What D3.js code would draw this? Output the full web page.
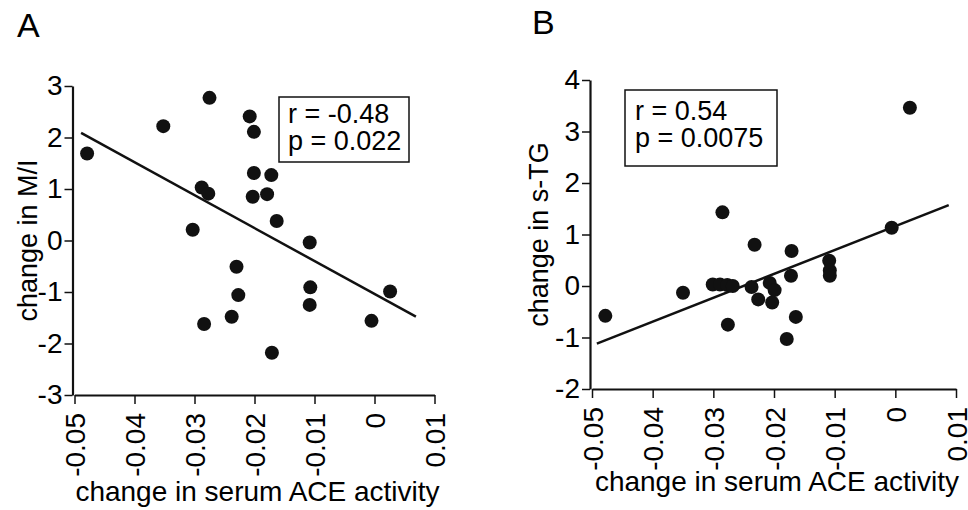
<!DOCTYPE html>
<html>
<head>
<meta charset="utf-8">
<script src="https://cdn.jsdelivr.net/npm/d3@7"></script>
<style>
body { margin: 0; background: #fff; }
svg { font-family: "Liberation Sans", Arial, Helvetica, sans-serif; }
</style>
</head>
<body>
<script>
// panel A : change in serum ACE activity vs change in M/I
var aceA = [-0.0479, -0.0352, -0.0275, -0.0288, -0.0277, -0.0303, -0.0284, -0.0230, -0.0227, -0.0238,
            -0.0208, -0.0201, -0.0201, -0.0203, -0.0172, -0.0179, -0.0163, -0.0171, -0.0108, -0.0107,
            -0.0108, -0.0005, 0.0026];
var miA = [1.69, 2.22, 2.77, 1.03, 0.91, 0.21, -1.62, -0.51, -1.06, -1.48,
           2.41, 2.11, 1.31, 0.85, 1.27, 0.90, 0.38, -2.18, -0.04, -0.91,
           -1.25, -1.56, -0.99];
var fitXA = [-0.0489, 0.0069];
var fitYA = [2.09, -1.48];
var statsA = ["r = -0.48", "p = 0.022"];

// panel B : change in serum ACE activity vs change in s-TG
var aceB = [-0.0478, -0.0350, -0.0285, -0.0301, -0.0289, -0.0277, -0.0268, -0.0276, -0.0232, -0.0237,
            -0.0226, -0.0207, -0.0199, -0.0203, -0.0171, -0.0172, -0.0164, -0.0179, -0.0109, -0.0108,
            -0.0108, -0.0006, 0.0024];
var tgB = [-0.58, -0.13, 1.43, 0.03, 0.03, 0.02, 0.00, -0.75, 0.80, -0.02,
           -0.26, 0.06, -0.08, -0.32, 0.68, 0.20, -0.60, -1.03, 0.49, 0.30,
           0.20, 1.13, 3.46];
var fitXB = [-0.0492, 0.0088];
var fitYB = [-1.12, 1.57];
var statsB = ["r = 0.54", "p = 0.0075"];

var xTicks = [-0.05, -0.04, -0.03, -0.02, -0.01, 0, 0.01];
var xTickLabels = ["-0.05", "-0.04", "-0.03", "-0.02", "-0.01", "0", "0.01"];
var yTicksA = [-3, -2, -1, 0, 1, 2, 3];
var yTicksB = [-2, -1, 0, 1, 2, 3, 4];
var xTitle = "change in serum ACE activity";

function init(){
	var w = 968;
	var h = 510;

	var svg = d3.select("body")
		.append("svg")
		.attr("width", w)
		.attr("height", h);

	drawPanel(svg, {
		letter: "A", letterX: 17, letterY: 37,
		xs: aceA, ys: miA, fitX: fitXA, fitY: fitYA, stats: statsA,
		xRange: [74.5, 434.5], yDomain: [-3, 3], yRange: [395, 86], yTicks: yTicksA,
		yTitle: "change in M/I", yTitleX: 37, xTitleY: 501,
		box: [279, 97, 130, 65], statX: 288, statY: 123
	});

	drawPanel(svg, {
		letter: "B", letterX: 532, letterY: 34,
		xs: aceB, ys: tgB, fitX: fitXB, fitY: fitYB, stats: statsB,
		xRange: [592, 956], yDomain: [-2, 4], yRange: [389, 80], yTicks: yTicksB,
		yTitle: "change in s-TG", yTitleX: 548, xTitleY: 491,
		box: [625, 90, 152, 76], statX: 635, statY: 120
	});
}

function drawPanel(svg, c){
	var xScale = d3.scaleLinear()
		.domain([-0.05, 0.01])
		.range(c.xRange);
	var yScale = d3.scaleLinear()
		.domain(c.yDomain)
		.range(c.yRange);

	var g = svg.append("g");

	g.append("text")
		.attr("x", c.letterX)
		.attr("y", c.letterY)
		.style("font-size", "34px")
		.text(c.letter);

	// axes
	var xAxis = d3.axisBottom(xScale)
		.tickValues(xTicks)
		.tickSize(9)
		.tickSizeOuter(0)
		.tickFormat(function(d, i){ return xTickLabels[i]; });

	var gx = g.append("g")
		.attr("transform", "translate(0," + c.yRange[0] + ")")
		.call(xAxis);
	gx.selectAll("text")
		.attr("transform", "rotate(-90)")
		.attr("x", -18)
		.attr("y", 0)
		.attr("dy", "0.36em")
		.style("text-anchor", "end")
		.style("font-size", "28px")
		.style("fill", "#000");

	var yAxis = d3.axisLeft(yScale)
		.tickValues(c.yTicks)
		.tickSize(8)
		.tickSizeOuter(0)
		.tickPadding(2)
		.tickFormat(function(d){ return String(d); });

	var gy = g.append("g")
		.attr("transform", "translate(" + (c.xRange[0] - 2) + ",0)")
		.call(yAxis);
	gy.selectAll("text")
		.style("font-size", "28px")
		.style("fill", "#000");

	g.selectAll(".domain").attr("stroke", "#111").attr("stroke-width", 2.2);
	g.selectAll(".tick line").attr("stroke", "#111").attr("stroke-width", 1.5);

	// titles
	g.append("text")
		.attr("transform", "translate(" + c.yTitleX + "," + ((c.yRange[0] + c.yRange[1]) / 2) + ") rotate(-90)")
		.style("text-anchor", "middle")
		.style("font-size", "27px")
		.style("fill", "#000")
		.text(c.yTitle);

	g.append("text")
		.attr("x", (c.xRange[0] + c.xRange[1]) / 2 + 3)
		.attr("y", c.xTitleY)
		.style("text-anchor", "middle")
		.style("font-size", "28px")
		.style("fill", "#000")
		.text(xTitle);

	// regression line
	var line = d3.line()
		.x(function(d){ return xScale(d[0]); })
		.y(function(d){ return yScale(d[1]); });
	g.append("path")
		.datum(d3.zip(c.fitX, c.fitY))
		.attr("d", line)
		.attr("fill", "none")
		.attr("stroke", "#111")
		.attr("stroke-width", 2.5);

	// points
	g.selectAll("circle")
		.data(d3.zip(c.xs, c.ys))
		.enter()
		.append("circle")
		.attr("cx", function(d){ return xScale(d[0]); })
		.attr("cy", function(d){ return yScale(d[1]); })
		.attr("r", 7)
		.attr("fill", "#111");

	// stats box
	g.append("rect")
		.attr("x", c.box[0])
		.attr("y", c.box[1])
		.attr("width", c.box[2])
		.attr("height", c.box[3])
		.attr("fill", "#fff")
		.attr("stroke", "#111")
		.attr("stroke-width", 1.5);

	g.selectAll(".stat")
		.data(c.stats)
		.enter()
		.append("text")
		.attr("class", "stat")
		.attr("x", c.statX)
		.attr("y", function(d, i){ return c.statY + i * 26.5; })
		.style("font-size", "27px")
		.style("fill", "#000")
		.text(function(d){ return d; });
}

window.onload = init;
</script>
</body>
</html>
